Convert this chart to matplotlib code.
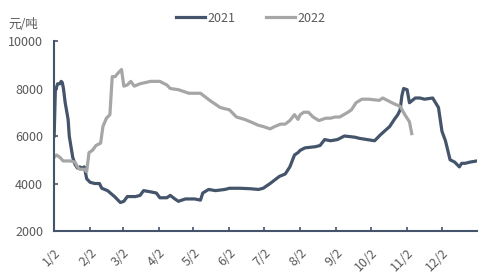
import numpy as np
import matplotlib
matplotlib.use('Agg')
import matplotlib.pyplot as plt

plt.rcParams['font.family'] = ['Noto Sans CJK SC', 'DejaVu Sans']

# day of year / price (yuan per ton)
days_2021 = [2, 3, 5, 7, 8, 9, 10, 11.5, 14, 15, 16, 18, 20, 22, 24, 26, 28, 30, 33, 37, 41,
             43, 48, 54, 57, 59, 62, 65, 72, 76, 79, 85, 90, 93, 99, 102, 106, 109, 115, 123,
             128, 130, 135, 141, 149, 153, 162, 171, 178, 182, 188, 196, 201, 205, 209, 212,
             214, 218, 227, 231, 235, 240, 246, 252, 261, 265, 278, 283, 291, 295, 298, 300,
             301.5, 303, 306, 308, 313, 317, 321, 328, 333, 336, 339, 343, 347, 351, 353, 356,
             360, 366]
price_2021 = [6000, 7900, 8200, 8200, 8300, 8250, 8000, 7400, 6700, 6000, 5700, 5100, 4800,
              4650, 4700, 4650, 4700, 4200, 4050, 4000, 4000, 3800, 3700, 3450, 3300, 3200,
              3250, 3450, 3450, 3500, 3700, 3650, 3600, 3400, 3400, 3500, 3350, 3250, 3350,
              3350, 3300, 3600, 3750, 3700, 3750, 3800, 3800, 3780, 3750, 3800, 4000, 4300,
              4400, 4700, 5200, 5300, 5400, 5500, 5550, 5600, 5850, 5800, 5850, 6000, 5950,
              5900, 5800, 6050, 6400, 6700, 6900, 7100, 7700, 8000, 7950, 7400, 7600, 7600,
              7550, 7600, 7200, 6200, 5800, 5000, 4900, 4700, 4850, 4850, 4900, 4950]

days_2022 = [2, 4, 7, 9.7, 16, 20, 22, 24, 28, 30, 32, 35, 38, 42, 44, 47, 50, 52, 54.5, 57,
             60, 62, 65, 68, 71, 76, 85, 93, 99, 102, 109, 118, 128, 136, 145, 153, 159, 166,
             171, 178, 182, 188, 192, 197, 201, 205, 209, 212, 214, 217, 221, 225, 230, 236,
             240, 244, 248, 255, 258, 262, 267, 273, 282, 285, 291, 295, 300, 304, 308, 310]
price_2022 = [5100, 5200, 5100, 4950, 4950, 4900, 4700, 4600, 4600, 4500, 5300, 5400, 5600,
              5700, 6400, 6750, 6900, 8500, 8500, 8650, 8800, 8100, 8150, 8300, 8100, 8200,
              8300, 8300, 8150, 8000, 7950, 7800, 7800, 7500, 7200, 7100, 6800, 6700, 6600,
              6450, 6400, 6300, 6400, 6500, 6500, 6650, 6900, 6700, 6900, 7000, 7000, 6800,
              6650, 6750, 6750, 6800, 6800, 7000, 7100, 7400, 7550, 7550, 7500, 7600, 7450,
              7350, 7250, 6900, 6600, 6100]

tick_days = [2, 33, 61, 92, 122, 153, 183, 214, 245, 275, 306, 336]
tick_labels = ['1/2', '2/2', '3/2', '4/2', '5/2', '6/2', '7/2', '8/2', '9/2', '10/2', '11/2', '12/2']

c21 = '#44546A'
c22 = '#A6A6A6'
txt = '#595959'

fig = plt.figure(figsize=(4.88, 2.77), dpi=100)
ax = fig.add_axes([0.111, 0.166, 0.866, 0.686])

ax.plot(days_2021, price_2021, color=c21, lw=2.3, label='2021', solid_joinstyle='round')
ax.plot(days_2022, price_2022, color=c22, lw=2.3, label='2022', solid_joinstyle='round')

ax.set_xlim(2, 366)
ax.set_ylim(2000, 10000)
ax.set_yticks([2000, 4000, 6000, 8000, 10000])
ax.set_xticks(tick_days)
ax.set_xticklabels(tick_labels, rotation=45, ha='right', rotation_mode='anchor')

for s in ['top', 'right']:
    ax.spines[s].set_visible(False)
for s in ['left', 'bottom']:
    ax.spines[s].set_color(c21)
    ax.spines[s].set_linewidth(1.5)
ax.tick_params(axis='both', direction='in', length=3, width=1.2, color=c21,
               labelsize=9, labelcolor=txt)
ax.tick_params(axis='y', pad=8)
ax.tick_params(axis='x', pad=11)

fig.text(0.017, 0.91, '元/吨', fontsize=9, color=txt, va='center')
fig.legend(loc='center', bbox_to_anchor=(0.514, 0.935), ncol=2, frameon=False,
           fontsize=9, labelcolor=txt, handlelength=2.3, columnspacing=2.4,
           handletextpad=0.25)

fig.savefig('out.png', dpi=100)
